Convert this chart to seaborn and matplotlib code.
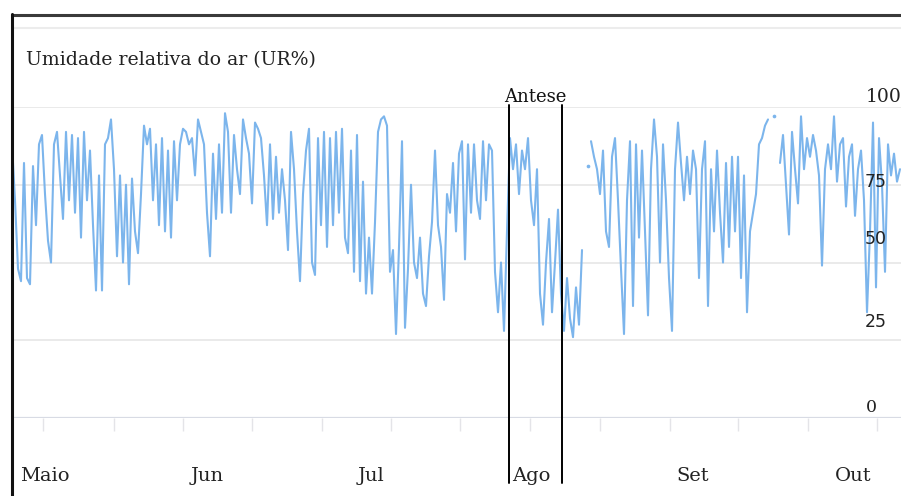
import numpy as np
import pandas as pd
import matplotlib
matplotlib.use("Agg")
import matplotlib.pyplot as plt
from matplotlib.lines import Line2D
import seaborn as sns

# Relative humidity readings (UR %) along the season (NaN = no reading)
ur = [
    88, 70, 48, 44, 82, 45, 43, 81, 62, 88,
    91, 72, 57, 50, 88, 92, 78, 64, 92, 70,
    91, 66, 90, 58, 92, 70, 86, 62, 41, 78,
    41, 88, 90, 96, 80, 52, 78, 50, 75, 43,
    77, 60, 53, 72, 94, 88, 93, 70, 88, 62,
    90, 60, 86, 58, 89, 70, 88, 93, 92, 88,
    90, 78, 96, 92, 88, 66, 52, 85, 64, 88,
    66, 98, 92, 66, 91, 80, 72, 96, 90, 85,
    69, 95, 93, 90, 78, 62, 88, 64, 84, 66,
    80, 70, 54, 92, 80, 60, 44, 72, 86, 93,
    50, 46, 90, 62, 92, 55, 90, 62, 92, 66,
    93, 58, 53, 86, 47, 91, 44, 76, 40, 58,
    40, 63, 92, 96, 97, 94, 47, 54, 27, 55,
    89, 29, 48, 75, 50, 45, 58, 40, 36, 52,
    63, 86, 62, 55, 38, 72, 66, 82, 60, 85,
    89, 51, 88, 66, 88, 70, 64, 89, 70, 88,
    86, 47, 34, 50, 28, 60, 90, 80, 88, 72,
    86, 80, 90, 70, 62, 80, 40, 30, 50, 64,
    34, 50, 67, 40, 28, 45, 32, 26, 42, 30,
    54, np.nan, np.nan, 89, 84, 80, 72, 86, 60, 55,
    84, 90, 70, 48, 27, 70, 89, 36, 88, 58,
    86, 60, 33, 80, 96, 84, 50, 88, 70, 45,
    28, 80, 95, 82, 70, 84, 72, 86, 80, 45,
    80, 89, 36, 80, 60, 86, 66, 50, 82, 55,
    84, 60, 84, 45, 78, 34, 60, 66, 72, 88,
    90, 94, 96, np.nan, np.nan, np.nan, 82, 91, 75, 59,
    92, 80, 69, 97, 80, 90, 84, 91, 86, 78,
    49, 80, 88, 80, 97, 76, 88, 90, 68, 84,
    88, 65, 80, 86, 70, 34, 60, 95, 42, 90,
    75, 47, 88, 78, 85, 76, 80,
]
# Isolated readings inside the gaps
avulsos_idx = [192, 254]
avulsos_ur = [81, 97]

meses = ["Maio", "Jun", "Jul", "Ago", "Set", "Out"]
meses_pos = [11, 65.17, 119.5, 173, 226.83, 280.5]
antese_ini, antese_fim = 165.67, 183.33
marcas_menores = [10.33, 34, 57, 80, 103.33, 126.33, 149.33, 172.67, 196,
                  219.33, 242, 265.33, 288.33]
escala_txt = ["100", "75", "50", "25", "0"]
escala_pos = [103.2, 75.9, 57.6, 30.8, 3.5]
escala_x = [296.6, 291.7, 291.7, 291.7, 288.2]

df = pd.DataFrame({"leitura": np.arange(len(ur)), "ur": ur})
# contiguous runs, so gaps stay open
df["trecho"] = df["ur"].isna().cumsum()
df = df.dropna()

sns.set_theme(style="white")
plt.rcParams["font.family"] = ["DejaVu Serif"]

W, H = 901, 496
fig = plt.figure(figsize=(W / 100, H / 100), dpi=100)
fig.patch.set_facecolor("white")
ax = fig.add_axes([12 / W, (H - 418) / H, (W - 12) / W, (418 - 107) / H])
ax.set_facecolor("white")

sns.lineplot(data=df, x="leitura", y="ur", units="trecho", estimator=None,
             color="#7cb5ec", linewidth=1.5, ax=ax, legend=False, zorder=3)
sns.scatterplot(x=avulsos_idx, y=avulsos_ur, color="#7cb5ec", s=7,
                linewidth=0, ax=ax, zorder=3)

ax.set_xlim(0, 296.33)
ax.set_ylim(0, 100)
ax.set_yticks([0, 25, 50, 75, 100])
ax.yaxis.grid(True, color="#e6e6e6", linewidth=1.2)
ax.set_yticklabels([])
ax.tick_params(axis="y", length=0)
for s in ax.spines.values():
    s.set_visible(False)
ax.axhline(0, color="#d8dbe4", linewidth=1.6, zorder=2)

ax.set_xticks(meses_pos)
ax.set_xticklabels(meses, fontsize=14, color="#222222")
ax.set_xticks(marcas_menores, minor=True)
ax.tick_params(axis="x", which="major", length=0, pad=35)
ax.tick_params(axis="x", which="minor", length=9, width=1, color="#e4e4e8",
               bottom=True)
ax.set_xlabel("")
ax.set_ylabel("")

# Anthesis window
for xv in (antese_ini, antese_fim):
    ax.plot([xv, xv], [100.6, -20.8], color="black", linewidth=1.4,
            clip_on=False, zorder=5)
ax.text((antese_ini + antese_fim) / 2, 103.2, "Antese", ha="center",
        va="center", fontsize=13, color="#111111")

# Right-hand scale
for t, yv, xv in zip(escala_txt, escala_pos, escala_x):
    fam = ["DejaVu Serif"] if t in ("100", "0") else ["DejaVu Sans"]
    ax.text(xv, yv, t, ha="right", va="center",
            fontsize=13.5 if t == "100" else 12.5, color="#222222", family=fam)

fig.text(26 / W, 1 - 60 / H, "Umidade relativa do ar (UR%)", ha="left",
         va="center", fontsize=13.6, color="#222222")

# Frame
fig.add_artist(Line2D([12 / W, 1], [1 - 15 / H, 1 - 15 / H], color="#3a3a3a",
                      linewidth=2.2, transform=fig.transFigure))
fig.add_artist(Line2D([14 / W, 1], [1 - 28 / H, 1 - 28 / H], color="#ececec",
                      linewidth=1.5, transform=fig.transFigure))
fig.add_artist(Line2D([12 / W, 12 / W], [0, 1 - 14 / H], color="#111111",
                      linewidth=2.2, transform=fig.transFigure))

fig.savefig("out.png", dpi=100, facecolor="white")
